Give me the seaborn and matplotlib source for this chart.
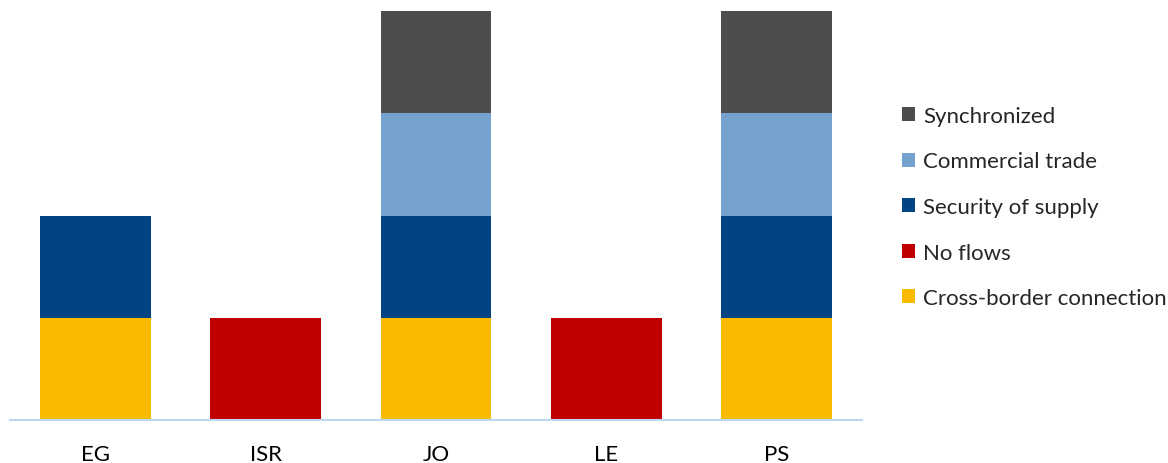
import numpy as np
import matplotlib
matplotlib.use("Agg")
import matplotlib.pyplot as plt
import seaborn as sns
from matplotlib.patches import Patch

countries = ["EG", "ISR", "JO", "LE", "PS"]
series_names = ["Cross-border connection", "No flows", "Security of supply",
                "Commercial trade", "Synchronized"]
cross_border = [1, 0, 1, 0, 1]
no_flows = [0, 1, 0, 1, 0]
security_of_supply = [1, 0, 1, 0, 1]
commercial_trade = [0, 0, 1, 0, 1]
synchronized = [0, 0, 1, 0, 1]
colors = ["#F9BB00", "#C00000", "#004483", "#76A2CF", "#4D4D4D"]

sns.set_theme(style="white")
plt.rcParams["font.family"] = ["Lato", "DejaVu Sans"]

fig = plt.figure(figsize=(11.68, 4.64), dpi=100)
ax = fig.add_axes([10 / 1168, 43 / 464, 852 / 1168, 409 / 464])

layers = [cross_border, no_flows, security_of_supply, commercial_trade, synchronized]
bottom = np.zeros(len(countries))
for name, vals, col in zip(series_names, layers, colors):
    vals = np.array(vals, dtype=float)
    sns.barplot(x=countries, y=vals, bottom=bottom, color=col, width=0.65,
                saturation=1, ax=ax, linewidth=0)
    bottom = bottom + vals

ax.set_ylim(0, 4)
ax.set_xlim(-0.5, 4.5)
ax.set_yticks([])
ax.set_ylabel("")
for side in ["top", "right", "left"]:
    ax.spines[side].set_visible(False)
ax.spines["bottom"].set_color("#BDD7EE")
ax.spines["bottom"].set_linewidth(1.5)
ax.tick_params(axis="x", length=0, labelsize=16, pad=17, colors="#000000")

handles = [Patch(facecolor=c, edgecolor="none", label=n)
           for n, c in zip(series_names, colors)][::-1]
fig.legend(handles=handles, loc="center left", bbox_to_anchor=(902 / 1168, 1 - 208 / 464),
           frameon=False, fontsize=16, handlelength=0.6, handleheight=0.6,
           handletextpad=0.35, labelspacing=1.15, borderaxespad=0, borderpad=0)

fig.savefig("out.png", dpi=100, facecolor="white")
